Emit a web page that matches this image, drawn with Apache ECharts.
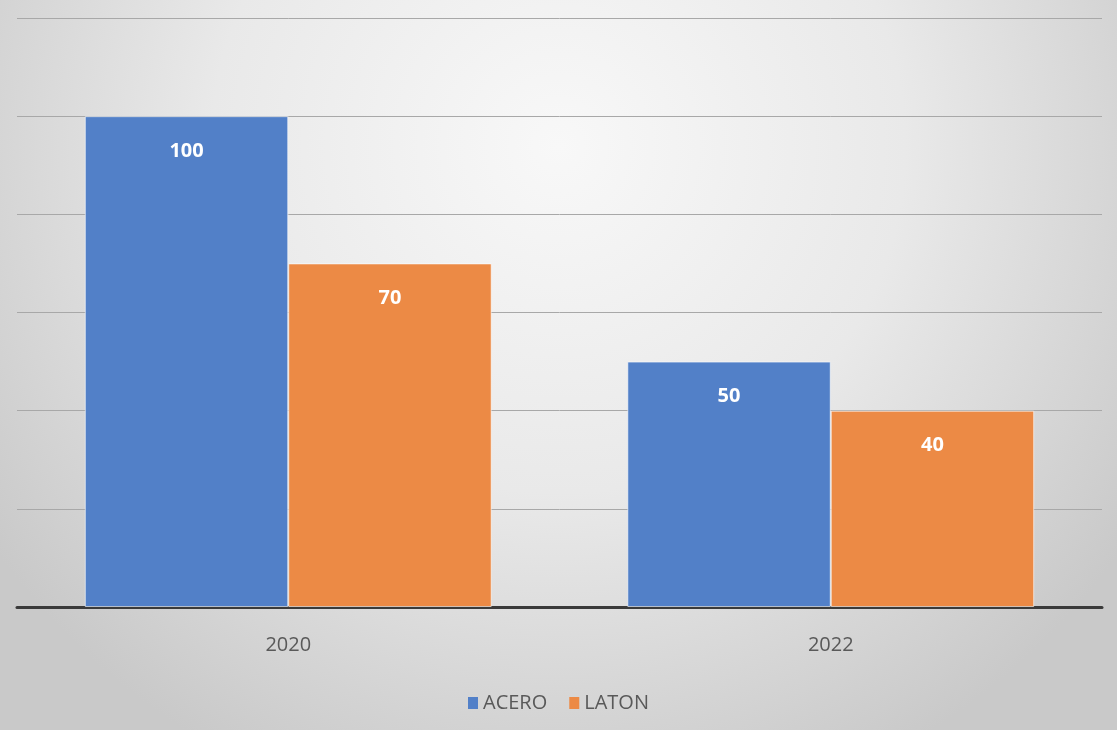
<!DOCTYPE html>
<html>
<head>
<meta charset="utf-8">
<script src="https://cdn.jsdelivr.net/npm/echarts@6/dist/echarts.min.js"></script>
<style>
  html, body { margin: 0; padding: 0; }
  #chart { width: 1117px; height: 730px; }
</style>
</head>
<body>
<div id="chart"></div>
<script>
// data
const years = ['2020', '2022'];
const acero = [100, 50];
const laton = [70, 40];
const seriesNames = ['ACERO', 'LATON'];

const chart = echarts.init(document.getElementById('chart'));

const labelStyle = {
    show: true,
    position: 'insideTop',
    distance: 25,
    color: '#ffffff',
    fontSize: 20,
    fontWeight: 'bold',
    fontFamily: 'Open Sans'
};

const option = {
    backgroundColor: {
        type: 'radial',
        x: 0.5, y: 0.2, r: 0.95,
        colorStops: [
            { offset: 0, color: '#f8f8f8' },
            { offset: 0.5, color: '#e9e9e9' },
            { offset: 1, color: '#c9c9c9' }
        ]
    },
    animation: false,
    color: ['#5280c8', '#ec8a45'],
    grid: { left: 17, right: 15, top: 18, bottom: 123, containLabel: false },
    legend: {
        data: seriesNames,
        bottom: 12,
        left: 'center',
        icon: 'rect',
        itemWidth: 10,
        itemHeight: 12,
        itemGap: 22,
        itemStyle: { borderWidth: 0 },
        textStyle: { color: '#595959', fontSize: 20, fontFamily: 'Open Sans' }
    },
    xAxis: {
        type: 'category',
        data: years,
        axisLine: { lineStyle: { color: '#3a3a3a', width: 3 } },
        axisTick: { show: false },
        axisLabel: { color: '#595959', fontSize: 20, margin: 28, fontFamily: 'Open Sans' }
    },
    yAxis: {
        type: 'value',
        min: 0, max: 120, interval: 20,
        axisLabel: { show: false },
        axisLine: { show: false },
        axisTick: { show: false },
        splitLine: { lineStyle: { color: '#a8a8a8', width: 1 } }
    },
    series: [
        {
            name: seriesNames[0], type: 'bar', data: acero,
            barGap: '0%', barCategoryGap: '25%',
            itemStyle: { borderColor: 'rgba(255,255,255,0.6)', borderWidth: 1 },
            label: labelStyle
        },
        {
            name: seriesNames[1], type: 'bar', data: laton,
            itemStyle: { borderColor: 'rgba(255,255,255,0.6)', borderWidth: 1 },
            label: labelStyle
        }
    ]
};
chart.setOption(option);
</script>
</body>
</html>
